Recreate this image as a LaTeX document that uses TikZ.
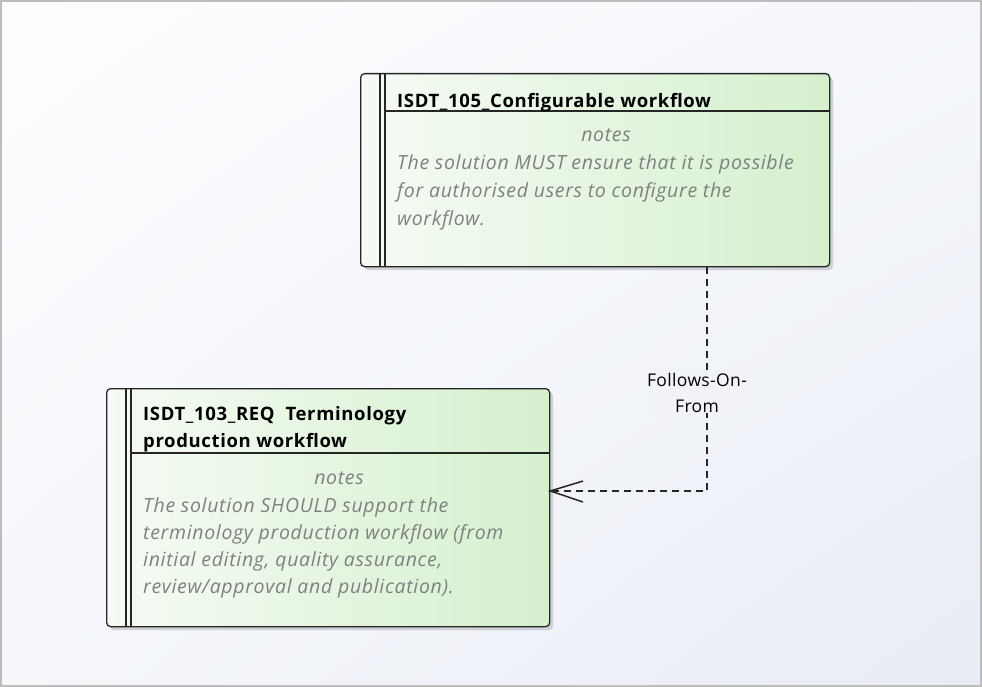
\documentclass[tikz,border=0pt]{standalone}
\usepackage{fontspec}
\setmainfont{Open Sans}
\newfontfamily\titlefont[LetterSpace=3.5]{Open Sans}
\newfontfamily\notesfont[LetterSpace=3.5]{Open Sans}
\newfontfamily\labelfont[LetterSpace=2]{Open Sans}
\usetikzlibrary{arrows.meta,shadings}
\definecolor{pageA}{HTML}{FDFEFF}
\definecolor{pageB}{HTML}{F5F7FB}
\definecolor{pageC}{HTML}{E8ECF4}
\definecolor{frameC}{HTML}{BDBDBD}
\definecolor{boxL}{HTML}{F6FBF5}
\definecolor{boxR}{HTML}{D5F0CE}
\definecolor{shadowC}{HTML}{CDD0D6}
\definecolor{noteC}{HTML}{808080}
\definecolor{labelbg}{HTML}{F1F3F9}
\tikzset{
  reqbox/.style={rectangle, rounded corners=4pt, draw=black!85, line width=1.3pt,
    left color=boxL, right color=boxR, inner sep=0pt, anchor=north west},
  shadowbox/.style={fill=shadowC, rounded corners=4pt},
  bar/.style={draw=black!85, line width=1.1pt},
  titletext/.style={font=\titlefont\bfseries\fontsize{18.5}{27}\selectfont, align=left, anchor=north west, inner sep=0pt},
  notehead/.style={font=\notesfont\itshape\fontsize{19.5}{27.5}\selectfont, text=noteC, inner sep=0pt, anchor=base},
  notetext/.style={font=\notesfont\itshape\fontsize{19.5}{#1}\selectfont, text=noteC, align=left, anchor=north west, inner sep=0pt},
  conn/.style={draw=black!85, line width=1.6pt, dash pattern=on 7pt off 5pt},
  connlabel/.style={font=\labelfont\fontsize{17.5}{26}\selectfont, fill=labelbg, align=center, inner sep=0.5pt}
}
\begin{document}
\begin{tikzpicture}[x=1pt,y=-1pt]
\useasboundingbox (0,0) rectangle (982,687);
\shade[upper left=pageA, upper right=pageB, lower left=pageB, lower right=pageC] (0,0) rectangle (982,687);
\draw[frameC, line width=2pt] (1,1) rectangle (981,686);

% box 1
\fill[shadowbox] (364,77) rectangle (833,270);
\node[reqbox, minimum width=469pt, minimum height=193pt] (b1) at (360,73) {};
\draw[bar] ([xshift=20pt]b1.north west) -- ([xshift=20pt]b1.south west);
\draw[bar] ([xshift=25pt]b1.north west) -- ([xshift=25pt]b1.south west);
\draw[bar] ([xshift=25pt,yshift=-38pt]b1.north west) -- ([yshift=-38pt]b1.north east);
\node[titletext] (t1) at (397,93.5) {ISDT\_105\_Configurable workflow};
\node[notehead] (n1) at (606,141.5) {notes};
\node[notetext=28] (d1) at (397,154.7) {The solution MUST ensure that it is possible\\for authorised users to configure the\\workflow.};

% box 2
\fill[shadowbox] (110,392) rectangle (553,630);
\node[reqbox, minimum width=443pt, minimum height=238pt] (b2) at (106,388) {};
\draw[bar] ([xshift=20pt]b2.north west) -- ([xshift=20pt]b2.south west);
\draw[bar] ([xshift=25pt]b2.north west) -- ([xshift=25pt]b2.south west);
\draw[bar] ([xshift=25pt,yshift=-65pt]b2.north west) -- ([yshift=-65pt]b2.north east);
\node[titletext] (t2) at (143,406.5) {ISDT\_103\_REQ\ \ Terminology\\production workflow};
\node[notehead] (n2) at (339,484.5) {notes};
\node[notetext=27.3] (d2) at (143,497) {The solution SHOULD support the\\terminology production workflow (from\\initial editing, quality assurance,\\review/approval and publication).};

% connector
\coordinate (bend) at (707,491);
\draw[conn] (bend |- b1.south) -- (bend) -- (bend -| b2.east);
\draw[black!85, line width=1.5pt] (583,481) -- (b2.east |- bend) -- (583,502);
\node[connlabel] (lab) at (697,393) {Follows-On-\\From};
\end{tikzpicture}
\end{document}
